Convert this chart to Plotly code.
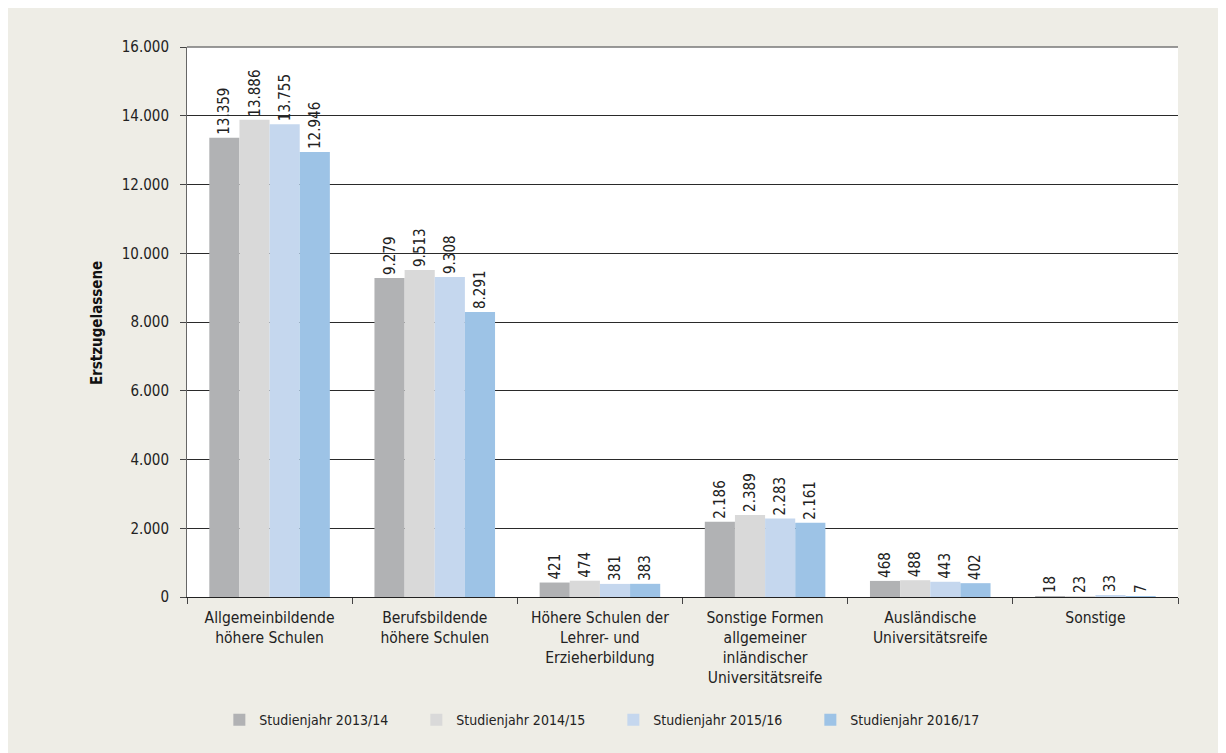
import plotly.graph_objects as go

categories = [
    "Allgemeinbildende<br>höhere Schulen",
    "Berufsbildende<br>höhere Schulen",
    "Höhere Schulen der<br>Lehrer- und<br>Erzieherbildung",
    "Sonstige Formen<br>allgemeiner<br>inländischer<br>Universitätsreife",
    "Ausländische<br>Universitätsreife",
    "Sonstige",
]
series_names = ["Studienjahr 2013/14", "Studienjahr 2014/15", "Studienjahr 2015/16", "Studienjahr 2016/17"]
values_2013 = [13359, 9279, 421, 2186, 468, 18]
values_2014 = [13886, 9513, 474, 2389, 488, 23]
values_2015 = [13755, 9308, 381, 2283, 443, 33]
values_2016 = [12946, 8291, 383, 2161, 402, 7]
colors = ["#b1b2b4", "#d9d9d9", "#c5d7ee", "#9dc3e6"]
y_ticks = [0, 2000, 4000, 6000, 8000, 10000, 12000, 14000, 16000]

FONT = "Liberation Sans Narrow, DejaVu Sans Condensed, Arial Narrow, sans-serif"
BEIGE = "#eeede6"

fig = go.Figure()
for name, vals, col in zip(series_names, [values_2013, values_2014, values_2015, values_2016], colors):
    fig.add_trace(go.Bar(
        x=categories, y=vals, name=name,
        marker=dict(color=col, line=dict(width=0)),
        text=vals, texttemplate="%{y:,d}", textposition="outside",
        textangle=-90, constraintext="none", cliponaxis=False,
        textfont=dict(family=FONT, size=15, color="#222222"),
    ))

fig.update_layout(
    width=1218, height=745,
    margin=dict(l=179, r=48, t=39, b=156),
    paper_bgcolor=BEIGE, plot_bgcolor="white",
    separators=",.",
    barmode="group", bargap=0.27, bargroupgap=0,
    font=dict(family=FONT, size=14, color="#222222"),
    showlegend=True,
    legend=dict(
        orientation="h", xref="container", yref="container",
        x=0.497, xanchor="center", y=0.044, yanchor="middle",
        font=dict(family=FONT, size=14, color="#222222"),
        entrywidth=152, bgcolor="rgba(0,0,0,0)",
    ),
    xaxis=dict(
        showline=True, linecolor="#222222", linewidth=1,
        ticks="outside", tickson="boundaries", ticklen=6, tickcolor="#444444",
        tickfont=dict(family=FONT, size=15.5, color="#222222"),
        ticklabelstandoff=6,
        showgrid=False,
    ),
    yaxis=dict(
        range=[0, 16000], tickvals=y_ticks, tickformat=",d",
        showline=True, linecolor="#666666", linewidth=1,
        ticks="outside", ticklen=6, tickcolor="#444444",
        showgrid=True, gridcolor="#2a2a2a", gridwidth=1,
        tickfont=dict(family=FONT, size=15, color="#222222"),
        ticklabelstandoff=8, zeroline=False,
    ),
    shapes=[
        dict(type="line", xref="paper", yref="paper", x0=0, x1=1, y0=1, y1=1,
             line=dict(color="#777777", width=1.5), layer="above"),
    ],
    annotations=[
        dict(text="<b>Erstzugelassene</b>", xref="paper", yref="paper",
             x=-0.0908, y=0.498, textangle=-90, showarrow=False,
             font=dict(family=FONT, size=15, color="#111111"),
             xanchor="center", yanchor="middle"),
    ],
)

fig.write_html("out.html")
